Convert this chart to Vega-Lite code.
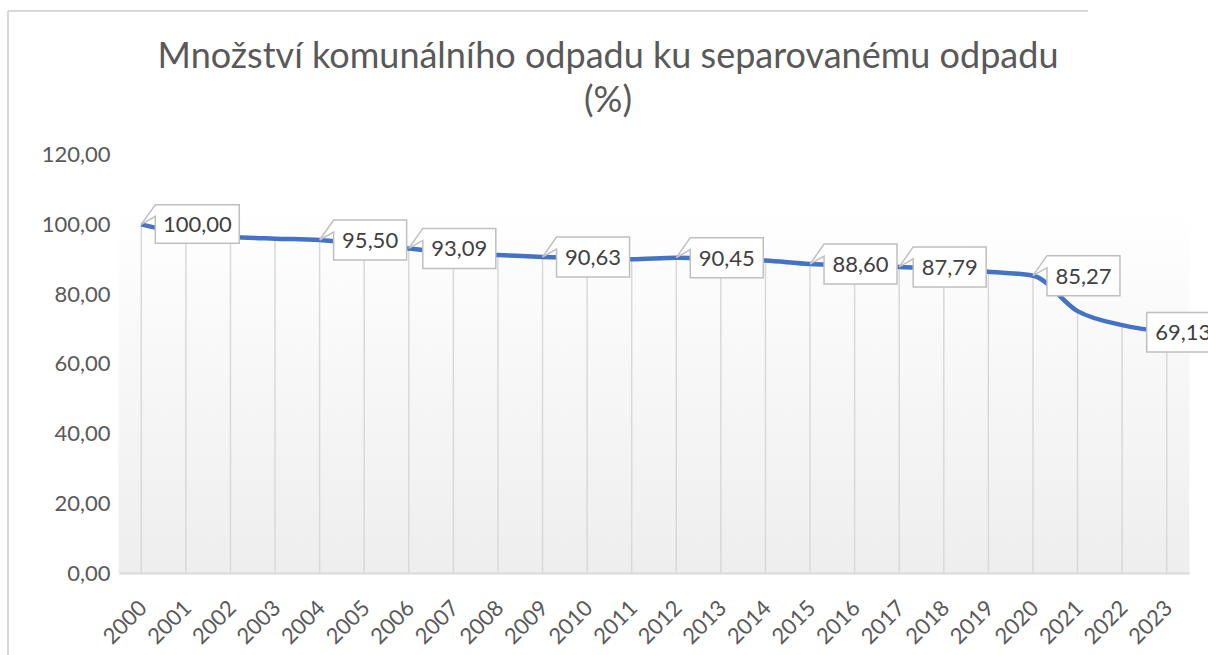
{
  "$schema": "https://vega.github.io/schema/vega-lite/v6.json",
  "width": 1200,
  "height": 644,
  "autosize": {"type": "none"},
  "padding": {"left": 8, "top": 11, "right": 0, "bottom": 0},
  "background": "white",
  "config": {
    "view": {"stroke": null},
    "font": "Lato",
    "locale": {"number": {"decimal": ",", "thousands": " ", "grouping": [3], "currency": ["", " Kč"]}}
  },
  "title": {
    "text": ["Množství komunálního odpadu ku separovanému odpadu", "(%)"],
    "fontSize": 36,
    "font": "Lato",
    "fontWeight": "normal",
    "color": "#595959",
    "anchor": "middle",
    "frame": "group",
    "offset": -110,
    "lineHeight": 44
  },
  "data": {
    "values": [
      {"year": "2000", "v": 100.00},
      {"year": "2001", "v": 97.3},
      {"year": "2002", "v": 96.4},
      {"year": "2003", "v": 95.9},
      {"year": "2004", "v": 95.50},
      {"year": "2005", "v": 94.3},
      {"year": "2006", "v": 93.09},
      {"year": "2007", "v": 91.7},
      {"year": "2008", "v": 91.2},
      {"year": "2009", "v": 90.63},
      {"year": "2010", "v": 90.3},
      {"year": "2011", "v": 90.0},
      {"year": "2012", "v": 90.45},
      {"year": "2013", "v": 90.1},
      {"year": "2014", "v": 89.6},
      {"year": "2015", "v": 88.60},
      {"year": "2016", "v": 88.2},
      {"year": "2017", "v": 87.79},
      {"year": "2018", "v": 87.1},
      {"year": "2019", "v": 86.4},
      {"year": "2020", "v": 85.27},
      {"year": "2021", "v": 75.1},
      {"year": "2022", "v": 71.1},
      {"year": "2023", "v": 69.13}
    ]
  },
  "resolve": {"scale": {"x": "independent", "y": "independent"}},
  "layer": [
    {
      "data": {"values": [{}]},
      "layer": [
        {
          "mark": {"type": "rule", "color": "#d9d9d9", "strokeWidth": 2},
          "encoding": {
            "x": {"datum": 0, "type": "quantitative", "scale": {"domain": [0, 1]}, "axis": null},
            "x2": {"datum": 0.9},
            "y": {"datum": 1, "type": "quantitative", "scale": {"domain": [0, 1]}, "axis": null}
          }
        },
        {
          "mark": {"type": "rule", "color": "#d9d9d9", "strokeWidth": 2},
          "encoding": {
            "x": {"datum": 0, "type": "quantitative", "scale": {"domain": [0, 1]}, "axis": null},
            "y": {"datum": 0, "type": "quantitative", "scale": {"domain": [0, 1]}, "axis": null},
            "y2": {"datum": 1}
          }
        }
      ]
    },
    {
      "encoding": {
        "x": {
          "field": "year",
          "type": "ordinal",
          "scale": {"type": "band", "range": [111, 1181], "paddingInner": 0, "paddingOuter": 0},
          "axis": {
            "title": null,
            "offset": -82,
            "domainColor": "#d9d9d9",
            "domainWidth": 2,
            "ticks": false,
            "grid": false,
            "labelAngle": -45,
            "labelFontSize": 22,
            "labelFont": "Lato",
            "labelColor": "#595959",
            "labelPadding": 24,
            "labelOffset": -5
          }
        }
      },
      "layer": [
        {
          "mark": {
            "type": "rect",
            "fill": {"gradient": "linear", "x1": 0, "y1": 0, "x2": 0, "y2": 1, "stops": [{"offset": 0, "color": "#ffffff"}, {"offset": 1, "color": "#eeeeee"}]},
            "stroke": {"gradient": "linear", "x1": 0, "y1": 0, "x2": 0, "y2": 1, "stops": [{"offset": 0, "color": "#ffffff"}, {"offset": 1, "color": "#eeeeee"}]},
            "strokeWidth": 1
          },
          "encoding": {
            "y": {"datum": 104.7, "type": "quantitative"},
            "y2": {"datum": 0}
          }
        },
        {
          "mark": {"type": "rule", "color": "#d9d9d9", "strokeWidth": 1.5},
          "encoding": {
            "y": {"field": "v", "type": "quantitative"},
            "y2": {"datum": 0}
          }
        },
        {
          "mark": {"type": "line", "color": "#4472c4", "strokeWidth": 4.5, "interpolate": "monotone"},
          "encoding": {
            "y": {
              "field": "v",
              "type": "quantitative",
              "scale": {"domain": [0, 120], "range": [562, 143.6], "nice": false, "zero": true},
              "axis": {
                "title": null,
                "values": [0, 20, 40, 60, 80, 100, 120],
                "format": ".2f",
                "offset": -111,
                "domain": false,
                "ticks": false,
                "grid": false,
                "labelPadding": 9,
                "labelFontSize": 22,
                "labelFont": "Lato",
                "labelColor": "#595959"
              }
            }
          }
        },
        {
          "transform": [{"filter": {"field": "year", "oneOf": ["2000"]}}],
          "mark": {"type": "point", "shape": "M0 0 L0.28 -0.39 L1.96 -0.39 L1.96 0.38 L0.28 0.38 L0.28 -0.16 Z", "size": 10000, "filled": true, "fill": "#ffffff", "stroke": "#bfbfbf", "strokeWidth": 1.5, "opacity": 1},
          "encoding": {"y": {"field": "v", "type": "quantitative"}}
        },
        {
          "transform": [{"filter": {"field": "year", "oneOf": ["2004", "2006", "2009", "2012", "2015", "2017", "2020"]}}],
          "mark": {"type": "point", "shape": "M0 0 L0.28 -0.4 L1.74 -0.4 L1.74 0.4 L0.28 0.4 L0.28 -0.16 Z", "size": 10000, "filled": true, "fill": "#ffffff", "stroke": "#bfbfbf", "strokeWidth": 1.5, "opacity": 1},
          "encoding": {"y": {"field": "v", "type": "quantitative"}}
        },
        {
          "transform": [{"filter": {"field": "year", "oneOf": ["2023"]}}],
          "mark": {"type": "point", "shape": "M-0.4 -0.39 L1.06 -0.39 L1.06 0.4 L-0.4 0.4 Z", "size": 10000, "filled": true, "fill": "#ffffff", "stroke": "#bfbfbf", "strokeWidth": 1.5, "opacity": 1},
          "encoding": {"y": {"field": "v", "type": "quantitative"}}
        },
        {
          "transform": [{"filter": {"field": "year", "oneOf": ["2000"]}}],
          "mark": {"type": "text", "dx": 56, "dy": 1, "fontSize": 22, "font": "Lato", "color": "#404040", "align": "center", "baseline": "middle"},
          "encoding": {"y": {"field": "v", "type": "quantitative"}, "text": {"field": "v", "type": "quantitative", "format": ".2f"}}
        },
        {
          "transform": [{"filter": {"field": "year", "oneOf": ["2004", "2006", "2009", "2012", "2015", "2017", "2020"]}}],
          "mark": {"type": "text", "dx": 50.5, "dy": 1, "fontSize": 22, "font": "Lato", "color": "#404040", "align": "center", "baseline": "middle"},
          "encoding": {"y": {"field": "v", "type": "quantitative"}, "text": {"field": "v", "type": "quantitative", "format": ".2f"}}
        },
        {
          "transform": [{"filter": {"field": "year", "oneOf": ["2023"]}}],
          "mark": {"type": "text", "dx": 16.5, "dy": 1, "fontSize": 22, "font": "Lato", "color": "#404040", "align": "center", "baseline": "middle"},
          "encoding": {"y": {"field": "v", "type": "quantitative"}, "text": {"field": "v", "type": "quantitative", "format": ".2f"}}
        }
      ]
    }
  ]
}
